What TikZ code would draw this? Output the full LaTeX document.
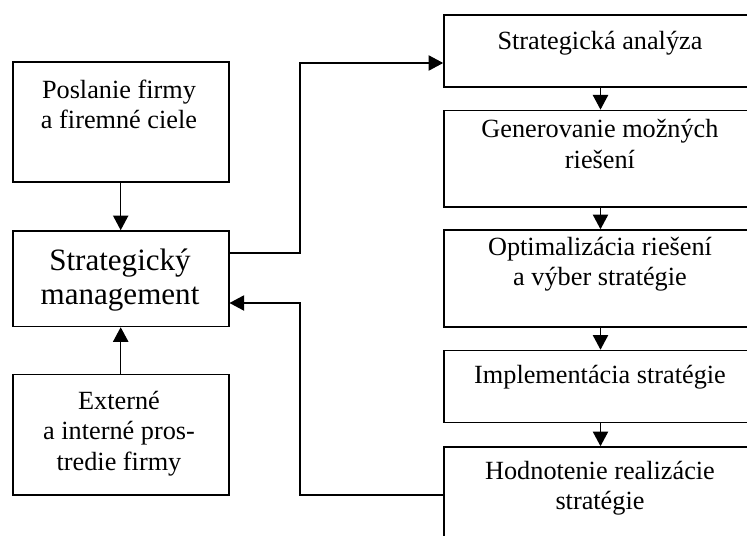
\documentclass[tikz,border=0pt]{standalone}
\usepackage{fontspec}
\setmainfont{Liberation Serif}
\usetikzlibrary{arrows.meta}
\begin{document}
\begin{tikzpicture}[x=0.75pt,y=-0.75pt,
  box/.style={draw,line width=1.2pt,inner sep=0pt,rectangle},
  lbox/.style={box,minimum width=162pt},
  rbox/.style={box,minimum width=234.75pt},
  txt/.style={align=center,inner sep=0pt,font=\fontsize{19.7pt}{22.8pt}\selectfont},
  bigtxt/.style={align=center,inner sep=0pt,font=\fontsize{23.3pt}{25.5pt}\selectfont},
  arr/.style={line width=1pt,-{Triangle[length=11pt,width=11.5pt]}}]
\useasboundingbox (0,0) rectangle (747,536);
\clip (0,0) rectangle (747,536);
% left column
\node[lbox,minimum height=90pt] (b1) at (120.7,122) {};
\node[lbox,minimum height=71.6pt] (b2) at (120.7,278.7) {};
\node[lbox,minimum height=90.4pt] (b3) at (120.7,434.7) {};
\node[txt] (tb1) at (119,104.5) {Poslanie firmy\\a firemné ciele};
\node[bigtxt] (tb2) at (120,280) {Strategický\\management};
\node[txt] (tb3) at (119,433.5) {Externé\\a interné pros-\\tredie firmy};
% right column
\node[rbox,minimum height=54pt] (r1) at (600.5,51) {};
\node[rbox,minimum height=72.4pt] (r2) at (600.5,158.7) {};
\node[rbox,minimum height=72.75pt] (r3) at (600.5,278.5) {};
\node[rbox,minimum height=54pt] (r4) at (600.5,386.5) {};
\node[rbox,minimum height=72pt] (r5) at (600.5,495) {};
\node[txt] (tr1) at (600,43.7) {Strategická analýza};
\node[txt] (tr2) at (600,144) {Generovanie možných\\riešení};
\node[txt] (tr3) at (600,264) {Optimalizácia riešení\\a výber stratégie};
\node[txt] (tr4) at (600,377) {Implementácia stratégie};
\node[txt] (tr5) at (600,488) {Hodnotenie realizácie\\stratégie};
% connectors
\draw[arr] (b1.south) -- (b2.north);
\draw[arr] (b3.north) -- (b2.south);
\draw[arr] (r1.south) -- (r2.north);
\draw[arr] (r2.south) -- (r3.north);
\draw[arr] (r3.south) -- (r4.north);
\draw[arr] (r4.south) -- (r5.north);
\coordinate (t1) at (300,253);
\coordinate (t2) at (300,63);
\draw[arr] (b2.east |- t1) -- (t1) -- (t2) -- (r1.west |- t2);
\coordinate (f1) at (300,495);
\coordinate (f2) at (300,303);
\draw[arr] (r5.west |- f1) -- (f1) -- (f2) -- (b2.east |- f2);
\end{tikzpicture}
\end{document}
